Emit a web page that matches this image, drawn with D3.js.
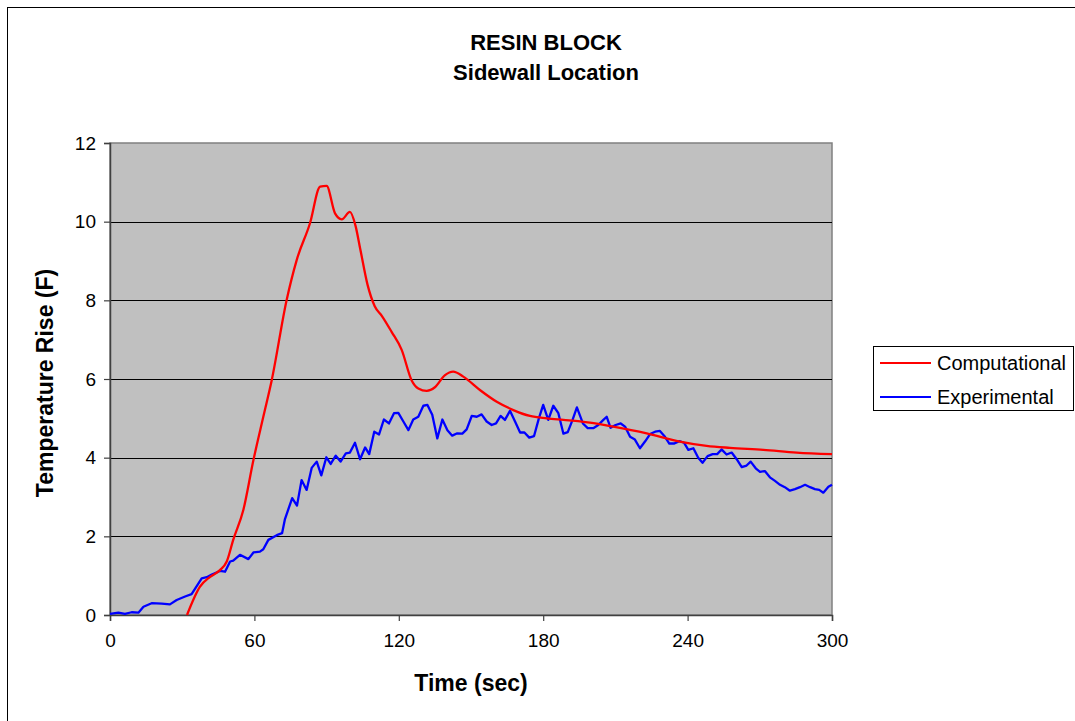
<!DOCTYPE html>
<html><head><meta charset="utf-8">
<script src="https://cdn.jsdelivr.net/npm/d3@7"></script>
<style>body{margin:0;background:#fff;}svg{display:block;font-family:"Liberation Sans",Arial,sans-serif;}</style>
</head><body><svg id="c" width="1075" height="721"></svg>
<script>
const compTime = [32,37.4,41.6,45.7,48.5,51.2,55.4,59.6,63.7,67.2,73.4,77.6,83.1,87.3,90.0,93.5,96.3,99.7,102,104,107,110,113,117,121.2,125.3,128.1,131.6,135,139.2,142.6,146.8,153.7,160.7,167.6,174.5,181.5,188.4,195.3,199.4,209.1,223,236.8,247.9,257.6,271.5,285.3,300];
const compValue = [0,0.72,0.97,1.14,1.36,1.91,2.67,3.94,5.04,5.97,8.01,9.03,9.96,10.89,10.91,10.21,10.06,10.25,9.9,9.3,8.4,7.85,7.6,7.2,6.74,5.97,5.76,5.70,5.79,6.10,6.19,6.06,5.72,5.42,5.21,5.06,5.0,4.96,4.92,4.89,4.79,4.62,4.41,4.30,4.25,4.20,4.13,4.09];
const expTime = [0,3.5,6.2,9.0,11.8,13.9,17.3,21.5,24.9,27.7,31.2,33.9,38.1,40.2,42.3,45.7,47.8,49.9,51.2,54.0,57.5,59.6,62.3,63.7,65.8,69.3,71.5,72.7,75.7,77.7,79.6,81.7,83.8,85.9,87.8,89.9,91.7,93.8,95.8,98.0,99.7,101.8,103.9,106.0,107.7,109.8,111.8,113.8,115.9,118.0,119.8,121.9,124.0,126.0,128.1,130.2,131.9,133.9,136.0,138.1,140.2,142.2,144.3,146.4,148.2,150.3,152.4,154.4,156.5,158.6,160.4,162.3,164.1,166.2,168.3,170.4,172.2,174.2,176.2,178.2,180.0,182.1,184.2,186.3,188.4,190.2,192.2,194.0,196.5,198.5,200.8,202.9,205.0,206.4,208.0,210.1,212.2,214.0,216.1,218.1,220.2,222.3,224.4,226.5,228.5,230.6,232.4,234.5,236.6,238.5,240.3,242.4,244.4,246.2,248.3,250.4,252.3,254.1,256.2,258.3,260.4,262.5,264.5,266.2,268.3,270.1,272.1,274.2,276.3,278.4,280.4,282.5,284.6,286.7,288.8,290.9,292.9,294.7,296.4,298.5,300];
const expValue = [0.03,0.06,0.03,0.07,0.06,0.21,0.30,0.29,0.27,0.38,0.47,0.53,0.93,0.96,1.03,1.12,1.10,1.36,1.38,1.53,1.42,1.59,1.61,1.67,1.91,2.03,2.08,2.44,2.97,2.78,3.43,3.18,3.74,3.90,3.55,4.01,3.84,4.05,3.90,4.11,4.13,4.38,3.96,4.26,4.09,4.66,4.59,4.97,4.87,5.13,5.14,4.92,4.70,4.97,5.04,5.32,5.34,5.09,4.49,4.97,4.70,4.56,4.62,4.61,4.72,5.06,5.04,5.10,4.92,4.83,4.87,5.06,4.96,5.19,4.92,4.64,4.64,4.51,4.55,5.00,5.34,4.96,5.32,5.13,4.61,4.65,4.96,5.28,4.87,4.75,4.75,4.83,4.96,5.04,4.76,4.83,4.87,4.79,4.53,4.46,4.24,4.41,4.60,4.66,4.68,4.53,4.36,4.36,4.42,4.38,4.20,4.24,4.00,3.87,4.04,4.09,4.09,4.21,4.08,4.13,3.96,3.76,3.80,3.90,3.73,3.64,3.66,3.50,3.41,3.31,3.25,3.16,3.20,3.25,3.31,3.25,3.20,3.18,3.11,3.26,3.31];
const xTicks = [0,60,120,180,240,300];
const yTicks = [0,2,4,6,8,10,12];
const seriesNames = ["Computational","Experimental"];
const seriesColors = ["#ff0000","#0000ff"];

const svg = d3.select("#c");
const L=110, R=832, T=143, B=615;
const x = d3.scaleLinear().domain([0,300]).range([L,R]);
const y = d3.scaleLinear().domain([0,12]).range([B,T]);

svg.append("rect").attr("x",7.5).attr("y",7.5).attr("width",1100).attr("height",760).attr("fill","#fff").attr("stroke","#000").attr("stroke-width",1);

svg.append("rect").attr("x",L).attr("y",T).attr("width",R-L).attr("height",B-T).attr("fill","#c0c0c0").attr("stroke","#808080").attr("stroke-width",1.5);

svg.append("g").selectAll("line").data(yTicks.filter(d=>d>0&&d<12)).join("line")
  .attr("x1",L).attr("x2",R).attr("y1",d=>Math.round(y(d))+0.5).attr("y2",d=>Math.round(y(d))+0.5)
  .attr("stroke","#000").attr("stroke-width",1);

const xAxis = d3.axisBottom(x).tickValues(xTicks).tickSize(6).tickPadding(13).tickFormat(d3.format("d"));
const gx = svg.append("g").attr("transform",`translate(0,${B})`).call(xAxis);
const yAxis = d3.axisLeft(y).tickValues(yTicks).tickSize(6).tickPadding(8).tickFormat(d3.format("d"));
const gy = svg.append("g").attr("transform",`translate(${L},0)`).call(yAxis);
[gx,gy].forEach(g=>{
  g.select(".domain").attr("stroke","#404040").attr("stroke-width",1.5);
  g.selectAll(".tick line").attr("stroke","#404040").attr("stroke-width",1.2);
  g.selectAll(".tick text").attr("font-family","Liberation Sans, Arial, sans-serif").attr("font-size",19).attr("fill","#000");
});

const compData = compTime.map((t,i)=>[t,compValue[i]]);
const expData = expTime.map((t,i)=>[t,expValue[i]]);
const lineSmooth = d3.line().x(d=>x(d[0])).y(d=>y(d[1])).curve(d3.curveMonotoneX);
const lineLin = d3.line().x(d=>x(d[0])).y(d=>y(d[1]));
svg.append("path").datum(expData).attr("d",lineLin).attr("fill","none").attr("stroke",seriesColors[1]).attr("stroke-width",2.3).attr("stroke-linejoin","round");
svg.append("path").datum(compData).attr("d",lineSmooth).attr("fill","none").attr("stroke",seriesColors[0]).attr("stroke-width",2.3).attr("stroke-linejoin","round");

svg.append("text").attr("x",546).attr("y",50).attr("text-anchor","middle").attr("font-weight","bold").attr("font-size",22).text("RESIN BLOCK");
svg.append("text").attr("x",546).attr("y",80).attr("text-anchor","middle").attr("font-weight","bold").attr("font-size",22).text("Sidewall Location");
svg.append("text").attr("x",471).attr("y",691).attr("text-anchor","middle").attr("font-weight","bold").attr("font-size",23).text("Time (sec)");
svg.append("text").attr("transform","translate(53,383) rotate(-90)").attr("text-anchor","middle").attr("font-weight","bold").attr("font-size",23).text("Temperature Rise (F)");

const lg = svg.append("g");
lg.append("rect").attr("x",873.5).attr("y",346.5).attr("width",200).attr("height",64).attr("fill","#fff").attr("stroke","#000").attr("stroke-width",1);
seriesNames.forEach((n,i)=>{
  const yy = 363 + i*34;
  lg.append("line").attr("x1",880).attr("x2",931).attr("y1",yy).attr("y2",yy).attr("stroke",seriesColors[i]).attr("stroke-width",2);
  lg.append("text").attr("x",937).attr("y",yy+7).attr("font-size",20).text(n);
});
</script></body></html>
